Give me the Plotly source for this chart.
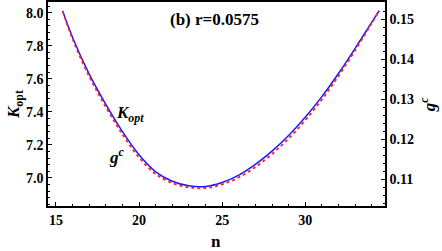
import plotly.graph_objects as go

n_vals = [15.4, 16, 17, 18, 19, 20, 21, 22, 23, 24, 25, 26, 27, 28, 29, 30, 31, 32, 33, 34, 34.45]
k_opt = [8.01, 7.85, 7.628, 7.445, 7.28, 7.14, 7.037, 6.98, 6.952, 6.948, 6.972, 7.017, 7.082,
         7.162, 7.257, 7.367, 7.492, 7.632, 7.784, 7.942, 8.012]
g_c = [0.152, 0.14498, 0.13563, 0.128, 0.12115, 0.11538, 0.11123, 0.109, 0.1079, 0.10775, 0.10865,
       0.1104, 0.11298, 0.11625, 0.12013, 0.12468, 0.12988, 0.13575, 0.14215, 0.14893, 0.15208]

x_ticks = [15, 20, 25, 30]
x_labels = ["15", "20", "25", "30"]
yl_ticks = [7.0, 7.2, 7.4, 7.6, 7.8, 8.0]
yl_labels = ["7.0", "7.2", "7.4", "7.6", "7.8", "8.0"]
yr_ticks = [0.11, 0.12, 0.13, 0.14, 0.15]
yr_labels = ["0.11", "0.12", "0.13", "0.14", "0.15"]

FONT = "Liberation Serif"
tickfont = dict(family=FONT, size=14, color="black")


def bold(labels):
    return ["<b>" + s + "</b>" for s in labels]


fig = go.Figure()
fig.add_trace(go.Scatter(x=n_vals, y=g_c, mode="lines", yaxis="y2", hoverinfo="skip",
                         line=dict(color="#ff2020", width=1.8, dash="dot", shape="spline")))
fig.add_trace(go.Scatter(x=n_vals, y=k_opt, mode="lines", hoverinfo="skip",
                         line=dict(color="#1a1aff", width=1.5, shape="spline")))

fig.update_layout(
    width=442, height=251,
    margin=dict(l=48, r=57, t=2, b=45, autoexpand=False),
    paper_bgcolor="white", plot_bgcolor="white",
    showlegend=False,
    xaxis=dict(range=[14.52, 34.8], tickvals=x_ticks, ticktext=bold(x_labels), ticks="inside",
               ticklen=4, tickcolor="black", showline=True, linecolor="black", linewidth=1.5,
               mirror=True, showgrid=False, zeroline=False, tickfont=tickfont, automargin=False,
               minor=dict(dtick=1, tick0=15, ticks="inside", ticklen=2, tickcolor="black")),
    yaxis=dict(range=[6.83, 8.065], tickvals=yl_ticks, ticktext=bold(yl_labels), ticks="inside",
               ticklen=4, tickcolor="black", showline=True, linecolor="black", linewidth=1.5,
               showgrid=False, zeroline=False, tickfont=tickfont, automargin=False,
               minor=dict(dtick=0.04, tick0=7.0, ticks="inside", ticklen=2, tickcolor="black")),
    yaxis2=dict(range=[0.10325, 0.15425], tickvals=yr_ticks, ticktext=bold(yr_labels),
                ticks="inside", ticklen=4, tickcolor="black", showline=True, linecolor="black",
                linewidth=1.5, overlaying="y", side="right", showgrid=False, zeroline=False,
                tickfont=tickfont, automargin=False,
                minor=dict(dtick=0.002, tick0=0.11, ticks="inside", ticklen=2, tickcolor="black")),
)

annots = [
    dict(text="<b>(b) r=0.0575</b>", x=0.493, y=0.915, xref="paper", yref="paper",
         font=dict(family=FONT, size=17, color="black")),
    dict(text="<b>n</b>", x=0.4985, y=-0.175, xref="paper", yref="paper",
         font=dict(family=FONT, size=17, color="black")),
    dict(text="<b><i>K</i><sub>opt</sub></b>", x=-0.098, y=0.5, xref="paper", yref="paper",
         textangle=-90, font=dict(family=FONT, size=17, color="black")),
    dict(text="<b><i>g<sup>c</sup></i></b>", x=1.128, y=0.5, xref="paper", yref="paper",
         textangle=-90, font=dict(family=FONT, size=17, color="black")),
    dict(text="<b><i>K<sub>opt</sub></i></b>", x=19.46, y=7.384, xref="x", yref="y",
         font=dict(family=FONT, size=17, color="black")),
    dict(text="<b><i>g<sup>c</sup></i></b>", x=18.67, y=7.131, xref="x", yref="y",
         font=dict(family=FONT, size=17, color="black")),
]
for a in annots:
    a["showarrow"] = False
    a["xanchor"] = "center"
    a["yanchor"] = "middle"
    fig.add_annotation(**a)

fig.write_html("out.html", config={"displayModeBar": False},
               post_script="document.body.style.margin='0';")
